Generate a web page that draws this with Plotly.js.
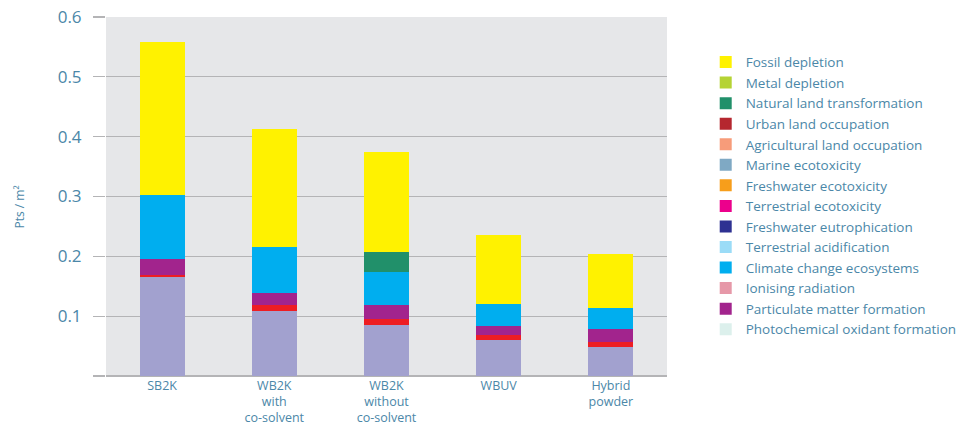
<!DOCTYPE html>
<html>
<head>
<meta charset="utf-8">
<script src="https://cdn.plot.ly/plotly-3.0.1.min.js"></script>
<style>html,body{margin:0;padding:0;background:#fff;}#chart{width:974px;height:426px;}</style>
</head>
<body>
<div id="chart"></div>
<script>
const categories = ["SB2K", "WB2K<br>with<br>co-solvent", "WB2K<br>without<br>co-solvent", "WBUV", "Hybrid<br>powder"];

// Stack segments, bottom to top
const lavenderSegment = [0.165, 0.109, 0.086, 0.061, 0.049];   // not listed in the legend
const redSegment = [0.003, 0.010, 0.009, 0.008, 0.008];        // not listed in the legend
const photochemicalOxidant = [0, 0, 0, 0, 0];
const particulateMatter = [0.027, 0.019, 0.023, 0.015, 0.022];
const ionisingRadiation = [0, 0, 0, 0, 0];
const climateChangeEcosystems = [0.107, 0.078, 0.056, 0.037, 0.035];
const terrestrialAcidification = [0, 0, 0, 0, 0];
const freshwaterEutrophication = [0, 0, 0, 0, 0];
const terrestrialEcotoxicity = [0, 0, 0, 0, 0];
const freshwaterEcotoxicity = [0, 0, 0, 0, 0];
const marineEcotoxicity = [0, 0, 0, 0, 0];
const agriculturalLand = [0, 0, 0, 0, 0];
const urbanLand = [0, 0, 0, 0, 0];
const naturalLandTransformation = [0, 0, 0.034, 0, 0];
const metalDepletion = [0, 0, 0, 0, 0];
const fossilDepletion = [0.257, 0.196, 0.167, 0.114, 0.090];

const yTickVals = [0, 0.1, 0.2, 0.3, 0.4, 0.5, 0.6];
const yTickText = ["", "0.1", "0.2", "0.3", "0.4", "0.5", "0.6"];
const yTitle = "Pts / m²";

const series = [
  {name: "", y: lavenderSegment, color: "#a2a1cf", legend: false},
  {name: "", y: redSegment, color: "#ee1d23", legend: false},
  {name: "Photochemical oxidant formation", y: photochemicalOxidant, color: "#dcf0ec"},
  {name: "Particulate matter formation", y: particulateMatter, color: "#a2248d"},
  {name: "Ionising radiation", y: ionisingRadiation, color: "#e698a8"},
  {name: "Climate change ecosystems", y: climateChangeEcosystems, color: "#00aeef"},
  {name: "Terrestrial acidification", y: terrestrialAcidification, color: "#9bdcf7"},
  {name: "Freshwater eutrophication", y: freshwaterEutrophication, color: "#2e3192"},
  {name: "Terrestrial ecotoxicity", y: terrestrialEcotoxicity, color: "#ec008c"},
  {name: "Freshwater ecotoxicity", y: freshwaterEcotoxicity, color: "#f79e1b"},
  {name: "Marine ecotoxicity", y: marineEcotoxicity, color: "#7fa9c4"},
  {name: "Agricultural land occupation", y: agriculturalLand, color: "#f79c7a"},
  {name: "Urban land occupation", y: urbanLand, color: "#b5272f"},
  {name: "Natural land transformation", y: naturalLandTransformation, color: "#21906a"},
  {name: "Metal depletion", y: metalDepletion, color: "#b5d334"},
  {name: "Fossil depletion", y: fossilDepletion, color: "#fff200"}
];

const textColor = "#4b87a8";
const fontFam = "Open Sans, Noto Sans, sans-serif";

const traces = series.map(s => ({
  type: "bar",
  x: categories,
  y: s.y,
  name: s.name,
  showlegend: s.legend !== false,
  marker: {color: s.color, line: {width: 0}},
  hoverinfo: "x+y+name"
}));

const layout = {
  width: 974,
  height: 426,
  barmode: "stack",
  bargap: 0.6,
  paper_bgcolor: "#ffffff",
  plot_bgcolor: "#e6e7e9",
  margin: {l: 106, r: 277, t: 17, b: 50, pad: 0},
  font: {family: fontFam, color: textColor},
  showlegend: true,
  legend: {
    traceorder: "reversed",
    x: 1.069,
    xanchor: "left",
    y: 0.917,
    yanchor: "top",
    font: {size: 13.5, color: textColor, family: fontFam},
    bgcolor: "rgba(0,0,0,0)"
  },
  xaxis: {
    type: "category",
    tickfont: {size: 12.5, color: textColor},
    showgrid: false,
    showline: false,
    ticks: "",
    fixedrange: true
  },
  yaxis: {
    range: [0, 0.6],
    tickvals: yTickVals,
    ticktext: yTickText,
    tickfont: {size: 17, color: textColor},
    showgrid: true,
    gridcolor: "#b4b4b6",
    gridwidth: 1.3,
    zeroline: true,
    zerolinecolor: "#b4b4b6",
    zerolinewidth: 1.5,
    ticks: "outside",
    ticklen: 12,
    tickwidth: 1.3,
    tickcolor: "#b4b4b6",
    ticklabelstandoff: 8,
    showline: false,
    automargin: false,
    fixedrange: true
  },
  annotations: [{
    text: yTitle,
    xref: "paper", yref: "paper",
    x: -0.154, y: 0.471,
    xanchor: "center", yanchor: "middle",
    textangle: -90,
    showarrow: false,
    font: {size: 12, color: textColor, family: fontFam}
  }]
};

Plotly.newPlot("chart", traces, layout, {displayModeBar: false, staticPlot: true});
</script>
</body>
</html>
